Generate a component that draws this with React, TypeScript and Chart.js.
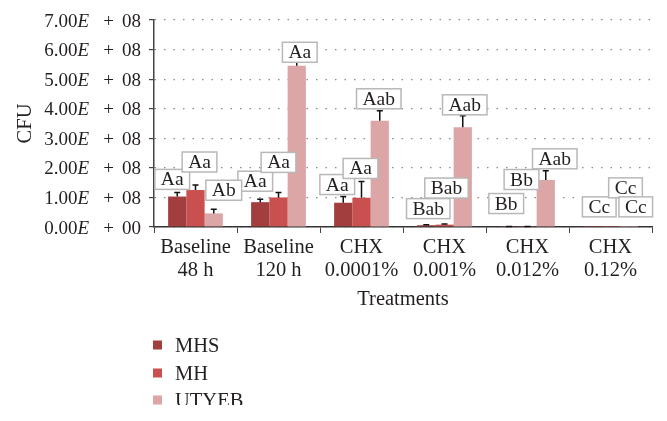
import React, { useEffect, useRef } from "react";
import { Chart, registerables } from "chart.js";

Chart.register(...registerables);

const categories: string[][] = [
  ["Baseline", "48 h"],
  ["Baseline", "120 h"],
  ["CHX", "0.0001%"],
  ["CHX", "0.001%"],
  ["CHX", "0.012%"],
  ["CHX", "0.12%"],
];
const seriesNames = ["MHS", "MH", "UTYEB"];
const mhsValues = [1.03e8, 0.84e8, 0.82e8, 0.06e8, 0.012e8, 0.005e8];
const mhValues = [1.25e8, 1.0e8, 0.99e8, 0.08e8, 0.012e8, 0.005e8];
const utyebValues = [0.46e8, 5.45e8, 3.59e8, 3.37e8, 1.59e8, 0.005e8];
const mhsErrors = [0.14e8, 0.1e8, 0.21e8, 0.02e8, 0.004e8, 0];
const mhErrors = [0.17e8, 0.17e8, 0.55e8, 0.02e8, 0.004e8, 0];
const utyebErrors = [0.14e8, 0.12e8, 0.34e8, 0.39e8, 0.31e8, 0];
const mhsLabels = ["Aa", "Aa", "Aa", "Bab", "Bb", "Cc"];
const mhLabels = ["Aa", "Aa", "Aa", "Bab", "Bb", "Cc"];
const utyebLabels = ["Ab", "Aa", "Aab", "Aab", "Aab", "Cc"];
const yTickValues = [0, 1e8, 2e8, 3e8, 4e8, 5e8, 6e8, 7e8];

// label box layout (pixel offsets from bar centre / error-bar top)
const mhsLabelDx = [-5, -5, -6, 2, -3, 7];
const mhLabelDx = [4, 0, -1, 2, -6, 15];
const utyebLabelDx = [10, 3, -1, 2, 9, 7];
const mhsLabelGap = [3, 8, 2, 6, 13, 10];
const mhLabelGap = [13, 20, 3, 26, 37, 29];
const utyebLabelGap = [9, 0, 2, 1, 2, 10];

const colors = ["#a33e3e", "#c9504f", "#dca5a6"];
const FONT = "'Liberation Serif', 'Times New Roman', serif";
const TEXT = "#231f20";

export default function App() {
  const ref = useRef<HTMLCanvasElement | null>(null);
  useEffect(() => {
    const canvas = ref.current;
    if (!canvas) return;
    const errs = [mhsErrors, mhErrors, utyebErrors];
    const labels = [mhsLabels, mhLabels, utyebLabels];
    const dxs = [mhsLabelDx, mhLabelDx, utyebLabelDx];
    const gaps = [mhsLabelGap, mhLabelGap, utyebLabelGap];

    const overlay = {
      id: "overlay",
      afterDraw(chart: any) {
        const ctx = chart.ctx as CanvasRenderingContext2D;
        const y = chart.scales.y;
        // y tick labels with italic E
        ctx.save();
        ctx.fillStyle = TEXT;
        ctx.textBaseline = "alphabetic";
        yTickValues.forEach((v) => {
          const py = y.getPixelForValue(v) + 6.5;
          let exp = v === 0 ? 0 : Math.floor(Math.log10(v));
          const mant = v === 0 ? 0 : v / Math.pow(10, exp);
          const m = mant.toFixed(2);
          const e = String(exp).padStart(2, "0");
          ctx.font = `19px ${FONT}`;
          ctx.textAlign = "right";
          ctx.fillText(m, 77.5, py);
          ctx.fillText(e, 141, py);
          ctx.textAlign = "center";
          ctx.fillText("+", 108.5, py);
          ctx.textAlign = "left";
          ctx.font = `italic 19px ${FONT}`;
          ctx.fillText("E", 77.5, py);
        });
        ctx.restore();

        // error bars
        ctx.save();
        ctx.strokeStyle = "#111";
        ctx.lineWidth = 1.5;
        for (let d = 0; d < 3; d++) {
          const meta = chart.getDatasetMeta(d);
          meta.data.forEach((bar: any, i: number) => {
            const val = chart.data.datasets[d].data[i] as number;
            const err = errs[d][i];
            if (!err) return;
            const top = y.getPixelForValue(val + err);
            const base = y.getPixelForValue(val);
            ctx.beginPath();
            ctx.moveTo(bar.x, base);
            ctx.lineTo(bar.x, top);
            ctx.moveTo(bar.x - 3, top);
            ctx.lineTo(bar.x + 3, top);
            ctx.stroke();
          });
        }
        ctx.restore();

        // label boxes
        ctx.save();
        ctx.font = `19.5px ${FONT}`;
        ctx.textAlign = "center";
        ctx.textBaseline = "alphabetic";
        for (let d = 0; d < 3; d++) {
          const meta = chart.getDatasetMeta(d);
          meta.data.forEach((bar: any, i: number) => {
            const val = chart.data.datasets[d].data[i] as number;
            const top = y.getPixelForValue(val + errs[d][i]);
            const cx = bar.x + dxs[d][i];
            const bottom = top - gaps[d][i];
            const txt = labels[d][i];
            const w = ctx.measureText(txt).width + 12;
            const h = 20;
            ctx.fillStyle = "#ffffff";
            ctx.fillRect(cx - w / 2, bottom - h, w, h);
            ctx.strokeStyle = "#b8b8b8";
            ctx.lineWidth = 1.5;
            ctx.strokeRect(cx - w / 2, bottom - h, w, h);
            ctx.fillStyle = TEXT;
            ctx.fillText(txt, cx, bottom - 4);
          });
        }
        ctx.restore();

        // legend
        ctx.save();
        ctx.beginPath();
        ctx.rect(0, 0, 667, 405);
        ctx.clip();
        ctx.font = `20.5px ${FONT}`;
        ctx.textAlign = "left";
        ctx.textBaseline = "alphabetic";
        const ys = [345, 373, 400];
        seriesNames.forEach((n, k) => {
          ctx.fillStyle = colors[k];
          ctx.fillRect(153, ys[k] - 4.5, 9, 9);
          ctx.fillStyle = TEXT;
          ctx.fillText(n, 175, ys[k] + 7);
        });
        ctx.restore();
      },
    };

    const chart = new Chart(canvas, {
      type: "bar",
      data: {
        labels: categories,
        datasets: [
          { label: seriesNames[0], data: mhsValues, backgroundColor: colors[0] },
          { label: seriesNames[1], data: mhValues, backgroundColor: colors[1] },
          { label: seriesNames[2], data: utyebValues, backgroundColor: colors[2] },
        ],
      },
      options: {
        responsive: false,
        devicePixelRatio: 1,
        animation: false,
        datasets: { bar: { barPercentage: 1, categoryPercentage: 0.66 } },
        layout: { padding: { left: 0, top: 20, right: 15, bottom: 104 } },
        plugins: { legend: { display: false }, tooltip: { enabled: false } },
        scales: {
          x: {
            grid: { drawOnChartArea: false, drawTicks: true, tickLength: 6, tickColor: "#444", offset: true },
            border: { display: true, color: "#333", width: 1.5 },
            ticks: {
              color: TEXT,
              font: { family: FONT, size: 20.5, lineHeight: 1.12 },
              padding: 3,
              maxRotation: 0,
              autoSkip: false,
            },
            title: {
              display: true,
              text: "Treatments",
              color: TEXT,
              font: { family: FONT, size: 20.5, lineHeight: 1.2 },
              padding: { top: 0, bottom: 5 },
            },
            afterFit: (s: any) => {
              s.height = 90;
            },
          },
          y: {
            min: 0,
            max: 7e8,
            ticks: { stepSize: 1e8, display: false },
            grid: { color: "#8a8a8a", lineWidth: 1.2, drawTicks: true, tickLength: 5, tickColor: "#444" },
            border: { display: true, color: "#444", width: 1.5, dash: [1.5, 8] },
            title: {
              display: true,
              text: "CFU",
              color: TEXT,
              font: { family: FONT, size: 20.5, lineHeight: 1.2 },
              padding: { top: 13, bottom: 0 },
            },
            afterFit: (s: any) => {
              s.width = 154;
            },
          },
        },
      },
      plugins: [overlay],
    } as any);
    return () => chart.destroy();
  }, []);

  return (
    <div style={{ position: "absolute", left: 0, top: 0, width: 667, height: 421, background: "#fff" }}>
      <canvas ref={ref} width={667} height={421} style={{ width: 667, height: 421 }} />
    </div>
  );
}
